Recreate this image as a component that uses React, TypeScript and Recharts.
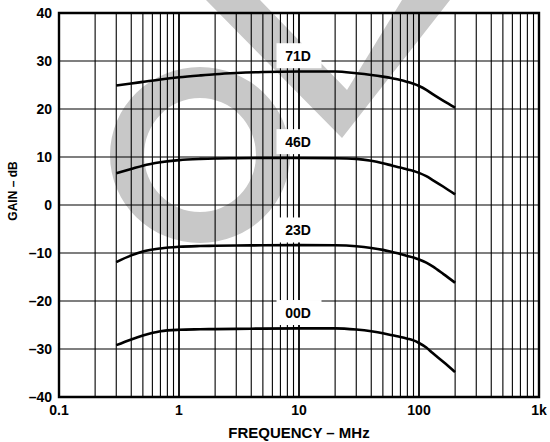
import React from 'react';
import { LineChart, Line, XAxis, YAxis, ReferenceLine, ReferenceArea, ReferenceDot } from 'recharts';

const freqMHz = [0.3, 0.4, 0.5, 0.7, 1, 1.5, 2, 3, 5, 10, 20, 30, 40, 50, 60, 70, 80, 90, 100, 115, 130, 160, 200];
const gain71D = [24.9, 25.3, 25.65, 26.15, 26.6, 27.0, 27.25, 27.5, 27.7, 27.8, 27.8, 27.45, 27.1, 26.75, 26.4, 26.05, 25.65, 25.25, 24.8, 24.0, 23.1, 21.7, 20.3];
const gain46D = [6.6, 7.5, 8.2, 8.9, 9.35, 9.6, 9.7, 9.75, 9.8, 9.8, 9.75, 9.6, 9.2, 8.7, 8.2, 7.8, 7.4, 7.1, 6.7, 6.0, 5.2, 3.8, 2.2];
const gain23D = [-11.9, -10.5, -9.7, -9.05, -8.7, -8.55, -8.5, -8.45, -8.4, -8.35, -8.4, -8.6, -8.95, -9.35, -9.8, -10.2, -10.6, -10.95, -11.35, -12.0, -12.8, -14.4, -16.2];
const gain00D = [-29.2, -28.0, -27.2, -26.3, -26.0, -25.9, -25.85, -25.8, -25.75, -25.7, -25.7, -25.95, -26.3, -26.7, -27.15, -27.5, -27.85, -28.2, -28.75, -29.7, -30.85, -32.7, -34.8];

const seriesKeys = ['g71', 'g46', 'g23', 'g00'];
const curveLabels = ['71D', '46D', '23D', '00D'];
const labelFreq = 10;
const labelGain = [31.1, 13.2, -5.2, -22.4];

const xTicks = [0.1, 1, 10, 100, 1000];
const xTickLabels = ['0.1', '1', '10', '100', '1k'];
const yTicks = [-40, -30, -20, -10, 0, 10, 20, 30, 40];
const yTickLabels = ['–40', '–30', '–20', '–10', '0', '10', '20', '30', '40'];

const gridDecades = [0.1, 1, 10, 100];
const gridMultipliers = [2, 3, 4, 5, 6, 7, 8, 9];

const data = freqMHz.map((f, i) => ({
  f,
  g71: gain71D[i],
  g46: gain46D[i],
  g23: gain23D[i],
  g00: gain00D[i],
}));

const minorGrid: number[] = [];
gridDecades.forEach((d) => gridMultipliers.forEach((m) => minorGrid.push(+(d * m).toPrecision(3))));
const majorGrid = [1, 10, 100];

const FONT = '"Liberation Sans", Arial, Helvetica, sans-serif';

const LabelBox = (props: any) => {
  const { cx, cy, text } = props;
  return (
    <g>
      <rect x={cx - 22.5} y={cy - 12.5} width={45} height={25} fill="#fff" />
      <text
        x={cx - 1}
        y={cy}
        textAnchor="middle"
        dominantBaseline="central"
        fontFamily={FONT}
        fontWeight="bold"
        fontSize={14}
        fill="#000"
      >
        {text}
      </text>
    </g>
  );
};

const YTitle = (props: any) => {
  const vb = props.viewBox || { x: 0, y: 13, width: 59, height: 384 };
  const x = vb.x + 13;
  const y = vb.y + vb.height / 2 - 14;
  return (
    <text
      x={x}
      y={y}
      transform={`rotate(-90, ${x}, ${y})`}
      textAnchor="middle"
      dominantBaseline="central"
      fontFamily={FONT}
      fontWeight="bold"
      fontSize={12}
      fill="#000"
    >
      GAIN – dB
    </text>
  );
};

const fmtX = (v: number) => xTickLabels[xTicks.indexOf(v)] ?? String(v);
const fmtY = (v: number) => yTickLabels[yTicks.indexOf(v)] ?? String(v);

export default function App() {
  return (
    <div style={{ position: 'relative', width: 550, height: 442, background: '#fff' }}>
      <style>{'body{margin:0;background:#fff}'}</style>
      <svg
        width={550}
        height={442}
        style={{ position: 'absolute', left: 0, top: 0 }}
      >
        <path
          fillRule="evenodd"
          fill="#c8c8c8"
          d="M110,155 a90,88 0 1,0 180,0 a90,88 0 1,0 -180,0 Z M144,155 a56,57 0 1,0 112,0 a56,57 0 1,0 -112,0 Z"
        />
        <path
          fillRule="evenodd"
          fill="#c8c8c8"
          d="M206,0 L342,138 L450,0 Z M260,0 L347,90 L402,0 Z"
        />
      </svg>
      <div style={{ position: 'absolute', left: 0, top: 0 }}>
        <LineChart
          width={550}
          height={442}
          data={data}
          margin={{ top: 13, right: 11, left: 0, bottom: 0 }}
          style={{ fontFamily: FONT }}
        >
          <XAxis
            dataKey="f"
            type="number"
            scale="log"
            domain={[0.1, 1000]}
            ticks={xTicks}
            tickFormatter={fmtX}
            allowDataOverflow
            height={45}
            axisLine={false}
            tickLine={false}
            tickSize={0}
            tickMargin={8}
            tick={{ fill: '#000', fontSize: 14, fontWeight: 'bold', fontFamily: FONT }}
            label={{
              value: 'FREQUENCY – MHz',
              position: 'insideBottom',
              offset: 4,
              fill: '#000',
              fontSize: 15,
              fontWeight: 'bold',
              fontFamily: FONT,
            }}
          />
          <YAxis
            type="number"
            domain={[-40, 40]}
            ticks={yTicks}
            tickFormatter={fmtY}
            allowDataOverflow
            width={59}
            axisLine={false}
            tickLine={false}
            tickSize={0}
            tickMargin={7}
            tick={{ fill: '#000', fontSize: 14, fontWeight: 'bold', fontFamily: FONT }}
            label={<YTitle />}
          />
          {minorGrid.map((v) => (
            <ReferenceLine key={'v' + v} x={v} stroke="#000" strokeWidth={1.1} />
          ))}
          {majorGrid.map((v) => (
            <ReferenceLine key={'V' + v} x={v} stroke="#000" strokeWidth={1.8} />
          ))}
          {yTicks.map((v) => (
            <ReferenceLine key={'h' + v} y={v} stroke="#000" strokeWidth={1.2} />
          ))}
          {seriesKeys.map((k) => (
            <Line
              key={k}
              dataKey={k}
              type="monotone"
              stroke="#000"
              strokeWidth={2.6}
              dot={false}
              isAnimationActive={false}
            />
          ))}
          {curveLabels.map((t, i) => (
            <ReferenceDot
              key={t}
              x={labelFreq}
              y={labelGain[i]}
              r={1}
              shape={(p: any) => <LabelBox {...p} text={t} />}
            />
          ))}
          <ReferenceArea
            x1={0.1}
            x2={1000}
            y1={-40}
            y2={40}
            fill="none"
            fillOpacity={0}
            stroke="#000"
            strokeWidth={2.4}
          />
        </LineChart>
      </div>
    </div>
  );
}
